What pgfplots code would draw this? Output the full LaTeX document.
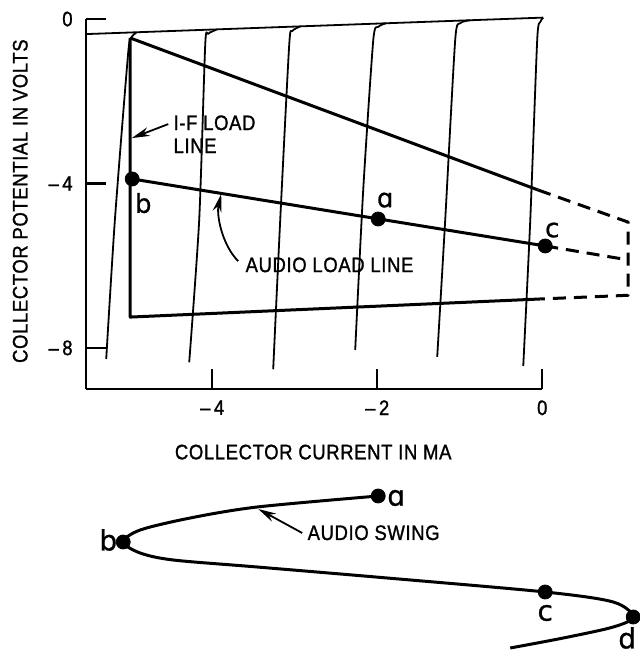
\documentclass[border=0pt]{standalone}
\usepackage{fontspec}
\setmainfont[FakeStretch=0.88, LetterSpace=3, FakeBold=1.2]{Liberation Sans}
\newfontfamily\lab[FakeBold=0.8]{DejaVu Sans}
\usepackage{pgfplots}
\pgfplotsset{compat=1.18}
\usetikzlibrary{arrows.meta}
\begin{document}
\fontsize{10.5}{12.5}\selectfont
\begin{tikzpicture}[line join=round, line cap=round]
\useasboundingbox (0,0) rectangle (320pt,329.5pt);
\begin{axis}[
  at={(43pt,135pt)}, anchor=south west,
  x=41.25pt, y=20.55pt,
  xmin=-5.53, xmax=0, ymin=-9, ymax=0,
  axis lines=left, axis line style={-, line width=1.3pt},
  tick align=inside, major tick length=10pt,
  tick style={line width=1.2pt, black},
  xtick={-4,-2,0}, xticklabels={–\,4,–\,2,0},
  ytick={-8,-4,0}, yticklabels={–\,8,–\,4,0},
  xticklabel style={yshift=-2pt},
  yticklabel style={xshift=-3pt},
  clip=false,
]
% saturation line
\addplot[black, line width=0.9pt] coordinates {(-5.53,-0.365) (0.012,0.036)};
% collector characteristic curves
\addplot[black, line width=0.9pt, smooth, tension=0.4] coordinates {(-4.92,-0.33) (-4.98,-0.45) (-5.02,-0.85) (-5.18,-4.89) (-5.285,-8.27)};
\addplot[black, line width=0.9pt, smooth, tension=0.4] coordinates {(-3.95,-0.26) (-4.05,-0.36) (-4.085,-0.63) (-4.158,-4.89) (-4.279,-8.35)};
\addplot[black, line width=0.9pt, smooth, tension=0.4] coordinates {(-2.933,-0.18) (-3.03,-0.29) (-3.067,-0.63) (-3.176,-4.89) (-3.261,-8.52)};
\addplot[black, line width=0.9pt, smooth, tension=0.4] coordinates {(-1.891,-0.10) (-1.988,-0.19) (-2.048,-0.51) (-2.17,-4.16) (-2.267,-8.05)};
\addplot[black, line width=0.9pt, smooth, tension=0.4] coordinates {(-0.873,-0.03) (-0.994,-0.10) (-1.055,-0.51) (-1.176,-4.89) (-1.273,-8.22)};
\addplot[black, line width=0.9pt, smooth, tension=0.4] coordinates {(0.012,0.036) (-0.024,-0.07) (-0.061,-0.51) (-0.145,-4.89) (-0.23,-8.44)};
% load lines
\addplot[black, line width=1.5pt] coordinates {(-4.994,-0.46) (-4.994,-7.25) (-0.024,-6.81)};
\addplot[black, line width=1.5pt] coordinates {(-4.994,-0.46) (-0.048,-4.16)};
\addplot[black, line width=1.5pt] coordinates {(-4.97,-3.89) (0.036,-5.52)};
\addplot[black, line width=1.5pt, dash pattern=on 6.5pt off 4pt] coordinates {(-0.048,-4.16) (1.042,-4.94) (1.042,-6.72) (-0.024,-6.81)};
\addplot[black, line width=1.5pt, dash pattern=on 6.5pt off 4pt] coordinates {(0.036,-5.52) (1.042,-5.86)};
% operating points
\addplot[black, only marks, mark=*, mark size=3.5pt] coordinates {(-4.97,-3.89) (-1.988,-4.864) (0.036,-5.52)};
% annotations
\node[anchor=base west, inner sep=0pt] at (axis cs:-4.473,-2.70) {I-F LOAD};
\node[anchor=base west, inner sep=0pt] at (axis cs:-4.473,-3.26) {LINE};
\draw[-{Stealth[length=9pt,width=4.5pt]}, line width=0.9pt] (axis cs:-4.533,-2.555) -- (axis cs:-4.975,-2.895);
\node[anchor=base west, inner sep=0pt] at (axis cs:-3.6,-6.156) {AUDIO LOAD LINE};
\draw[-{Stealth[length=9pt,width=4.5pt]}, line width=0.9pt] (axis cs:-3.685,-5.89) .. controls (axis cs:-3.879,-5.499) and (axis cs:-3.952,-4.769) .. (axis cs:-3.891,-4.258);
\node[font=\lab\fontsize{13}{13}\selectfont] at (axis cs:-4.836,-4.477) {b};
\node[font=\lab\fontsize{13}{13}\selectfont] at (axis cs:-1.903,-4.404) {ɑ};
\node[font=\lab\fontsize{13}{13}\selectfont] at (axis cs:0.121,-5.134) {c};
\node at (axis cs:-2.776,-10.535) {COLLECTOR CURRENT IN MA};
\node[rotate=90] at (axis cs:-6.327,-4.43) {COLLECTOR POTENTIAL IN VOLTS};
\end{axis}
\begin{axis}[
  at={(43pt,4.5pt)}, anchor=south west,
  x=41.25pt, y=0.5pt,
  xmin=-5.53, xmax=0, ymin=-650, ymax=-480,
  hide axis, clip=false,
]
\addplot[black, line width=1.5pt, smooth, tension=0.5] coordinates {
(-1.988,-496) (-3.455,-507) (-4.267,-518) (-4.873,-530) (-5.079,-542)
(-4.873,-553) (-4.473,-560) (-3.455,-567) (-1.879,-578) (0.036,-592)
(0.861,-602) (1.103,-617) (0.861,-627) (0.255,-638) (-0.388,-648)};
\addplot[black, only marks, mark=*, mark size=3.5pt] coordinates {(-1.988,-496) (-5.079,-542) (0.036,-592) (1.103,-617)};
\node[font=\lab\fontsize{14}{14}\selectfont] at (axis cs:-1.77,-498) {ɑ};
\node[font=\lab\fontsize{14}{14}\selectfont] at (axis cs:-5.26,-540) {b};
\node[font=\lab\fontsize{14}{14}\selectfont] at (axis cs:0.036,-613) {c};
\node[font=\lab\fontsize{14}{14}\selectfont] at (axis cs:1.03,-638) {d};
\node[anchor=base west, inner sep=0pt] at (axis cs:-2.848,-540) {AUDIO SWING};
\draw[-{Stealth[length=9pt,width=4.5pt]}, line width=0.9pt] (axis cs:-2.909,-533) -- (axis cs:-3.442,-509);
\end{axis}
\end{tikzpicture}
\end{document}
